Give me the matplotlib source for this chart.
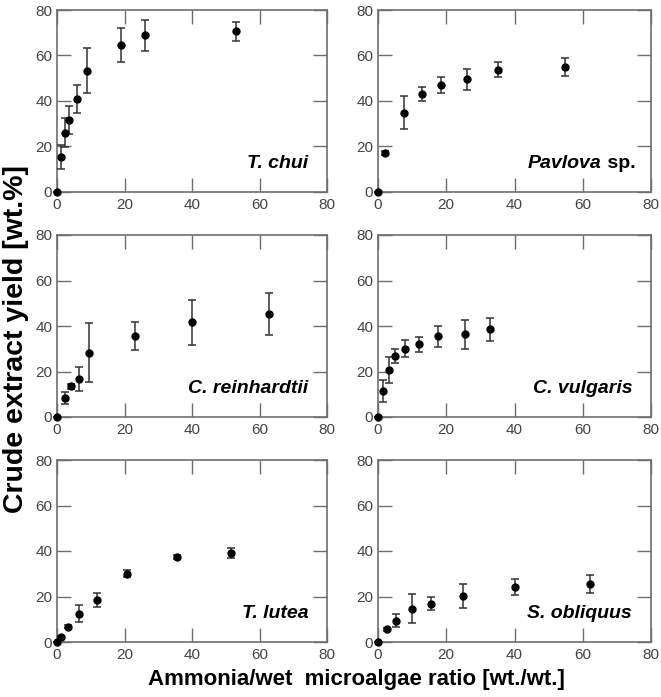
import matplotlib.pyplot as plt

plt.rcParams['font.family'] = ['Liberation Sans', 'DejaVu Sans']

# T. chui
chui_x = [0, 1.1, 2.4, 3.5, 5.8, 9.0, 18.9, 26.1, 53.1]
chui_y = [0, 15.5, 26.1, 31.6, 40.9, 53.4, 64.6, 68.9, 70.6]
chui_e = [0, 5.3, 6.4, 6.0, 6.3, 9.8, 7.5, 6.8, 4.2]

# Pavlova sp.
pav_x = [0, 2.0, 7.7, 13.0, 18.4, 26.0, 35.1, 54.7]
pav_y = [0, 17.2, 34.9, 42.9, 47.1, 49.6, 53.8, 54.9]
pav_e = [0, 0.8, 7.3, 3.1, 3.6, 4.6, 3.4, 4.1]

# C. reinhardtii
rein_x = [0, 2.3, 4.0, 6.4, 9.6, 23.0, 40.1, 62.9]
rein_y = [0, 8.4, 13.5, 16.6, 28.2, 35.7, 41.6, 45.2]
rein_e = [0, 2.5, 1.2, 5.2, 13.0, 6.2, 9.8, 9.3]

# C. vulgaris
vulg_x = [0, 1.4, 3.2, 5.0, 7.9, 11.9, 17.7, 25.6, 32.7]
vulg_y = [0, 11.3, 20.6, 26.9, 30.1, 32.0, 35.5, 36.3, 38.6]
vulg_e = [0, 4.8, 5.7, 3.0, 3.7, 3.3, 4.7, 6.3, 5.1]

# T. lutea
lut_x = [0, 1.3, 3.2, 6.4, 11.9, 20.7, 35.6, 51.6]
lut_y = [0, 2.2, 6.8, 12.5, 18.5, 30.1, 37.4, 39.2]
lut_e = [0, 0.5, 0.8, 3.7, 3.1, 1.5, 1.0, 2.2]

# S. obliquus
obl_x = [0, 2.7, 5.4, 9.9, 15.5, 25.0, 40.0, 62.1]
obl_y = [0, 5.6, 9.4, 14.7, 16.9, 20.1, 24.2, 25.5]
obl_e = [0, 0.6, 2.8, 6.2, 2.9, 5.2, 3.5, 3.9]

panels = [
    (chui_x, chui_y, chui_e, 'T. chui'),
    (pav_x, pav_y, pav_e, 'Pavlova'),
    (rein_x, rein_y, rein_e, 'C. reinhardtii'),
    (vulg_x, vulg_y, vulg_e, 'C. vulgaris'),
    (lut_x, lut_y, lut_e, 'T. lutea'),
    (obl_x, obl_y, obl_e, 'S. obliquus'),
]

W, H = 661, 697
fig = plt.figure(figsize=(W / 100, H / 100), dpi=100)

lefts = [57, 378]
widths = [270, 273]
tops = [10, 235, 460]
ph = 182

grey = '#6e6e6e'

for i, (x, y, e, name) in enumerate(panels):
    r, c = divmod(i, 2)
    ax = fig.add_axes([lefts[c] / W, 1 - (tops[r] + ph) / H, widths[c] / W, ph / H])
    ax.errorbar(x, y, yerr=e, fmt='o', color='black', ms=5, ecolor='#333333',
                elinewidth=1.1, capsize=3, capthick=1.1, clip_on=False, zorder=3)
    ax.set_xlim(0, 80)
    ax.set_ylim(0, 80)
    ax.set_xticks([0, 20, 40, 60, 80])
    ax.set_yticks([0, 20, 40, 60, 80])
    ax.tick_params(direction='in', length=10, width=1, color=grey, labelcolor='#444444',
                   labelsize=11, top=True, right=True)
    ax.tick_params(axis='x', pad=4)
    ax.tick_params(axis='y', pad=3.5)
    for s in ax.spines.values():
        s.set_color(grey)
        s.set_linewidth(1.2)
    if name == 'Pavlova':
        t = ax.text(44.0, 10.5, 'Pavlova', fontsize=14, fontweight='bold',
                    fontstyle='italic', ha='left', va='baseline')
        ax.annotate(' sp.', xy=(1, 0), xycoords=t, fontsize=14, weight='bold',
                    ha='left', va='bottom')
    else:
        ax.text(74.5, 10.5, name, fontsize=14, fontweight='bold', fontstyle='italic',
                ha='right', va='baseline')

fig.text(356 / W, 1 - 680 / H, 'Ammonia/wet  microalgae ratio [wt./wt.]',
         fontsize=16, fontweight='bold', ha='center', va='center')
fig.text(16 / W, 1 - 339 / H, 'Crude extract yield [wt.%]', fontsize=20.5,
         fontweight='bold', rotation=90, ha='center', va='center')

fig.savefig('out.png', dpi=100)
